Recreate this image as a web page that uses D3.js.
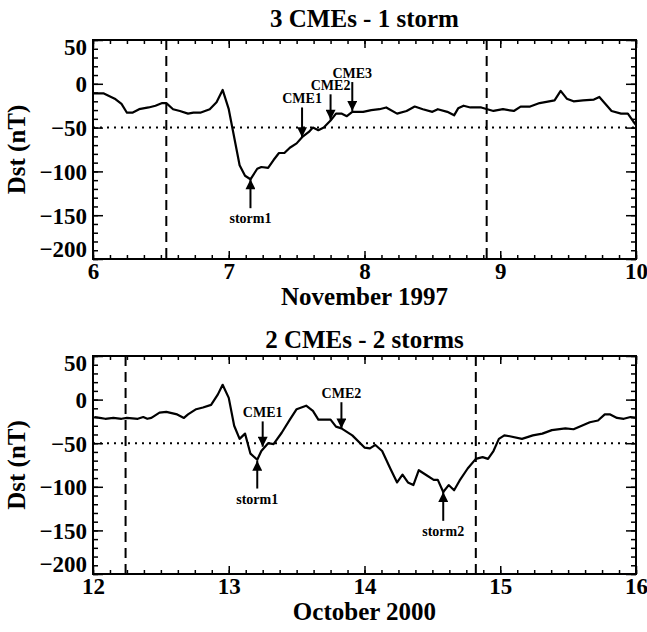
<!DOCTYPE html>
<html>
<head>
<meta charset="utf-8">
<script src="https://cdn.jsdelivr.net/npm/d3@7"></script>
<style>
  body { margin: 0; background: #fff; }
  text { font-family: "Liberation Serif", "Times New Roman", Times, serif; font-weight: bold; fill: #000; }
</style>
</head>
<body>
<script>
// November 1997 (3 CMEs - 1 storm): day of month, Dst in nT
const novDays = [6.00, 6.08, 6.16, 6.21, 6.25, 6.29, 6.34, 6.41, 6.46, 6.51, 6.54, 6.59, 6.64, 6.70, 6.74, 6.79,
  6.86, 6.91, 6.955, 7.00, 7.03, 7.08, 7.12, 7.16, 7.21, 7.24, 7.29, 7.33, 7.37, 7.41, 7.45, 7.50, 7.54, 7.59,
  7.62, 7.66, 7.70, 7.75, 7.79, 7.83, 7.87, 7.91, 7.99, 8.05, 8.11, 8.16, 8.24, 8.31, 8.37, 8.43, 8.50, 8.54,
  8.61, 8.66, 8.69, 8.73, 8.78, 8.86, 8.95, 9.02, 9.10, 9.15, 9.22, 9.29, 9.40, 9.445, 9.49, 9.54, 9.61, 9.69,
  9.73, 9.82, 9.89, 9.94, 9.98, 10.00];
const novDst = [-11, -11, -17, -23, -33, -33, -29, -27, -25, -22, -22, -29, -31, -34, -33, -33,
  -29, -21, -7, -29, -53, -93, -105, -109, -97, -95, -96, -87, -79, -79, -73, -68, -61, -55,
  -50, -53, -50, -42, -34, -34, -37, -32, -32, -30, -29, -27, -34, -31, -26, -29, -32, -29,
  -32, -36, -28, -25, -27, -27, -31, -29, -31, -26, -26, -22, -19, -8, -17, -20, -19, -18,
  -15, -31, -34, -34, -43, -47];

// October 2000 (2 CMEs - 2 storms)
const octDays = [12.01, 12.05, 12.09, 12.15, 12.21, 12.25, 12.33, 12.37, 12.40, 12.43, 12.49, 12.54, 12.62, 12.67,
  12.70, 12.76, 12.81, 12.87, 12.92, 12.955, 13.00, 13.04, 13.08, 13.12, 13.16, 13.21, 13.24, 13.29, 13.33,
  13.39, 13.45, 13.50, 13.57, 13.62, 13.66, 13.75, 13.79, 13.83, 13.91, 14.00, 14.04, 14.08, 14.13, 14.19,
  14.24, 14.28, 14.32, 14.36, 14.40, 14.46, 14.51, 14.54, 14.58, 14.62, 14.66, 14.70, 14.76, 14.82, 14.87,
  14.91, 14.95, 14.99, 15.03, 15.07, 15.16, 15.24, 15.31, 15.38, 15.48, 15.54, 15.60, 15.66, 15.72, 15.77,
  15.81, 15.86, 15.91, 15.96, 16.00];
const octDst = [-20, -21, -22, -21, -22, -21, -22, -20, -22, -21, -15, -14, -17, -21,
  -17, -11, -9, -6, 6, 17, 2, -30, -45, -39, -62, -69, -59, -50, -51,
  -38, -23, -11, -7, -13, -23, -23, -31, -33, -41, -55, -56, -52, -59, -79,
  -95, -86, -95, -98, -81, -87, -92, -92, -106, -98, -104, -93, -79, -68, -66,
  -68, -59, -45, -41, -42, -45, -41, -39, -35, -33, -34, -30, -26, -24, -17,
  -17, -21, -22, -20, -21];

// vertical dashed markers (day)
const novMarks = [6.54, 8.90];
const octMarks = [12.24, 14.82];

// arrows: label, day, tail Dst, tip Dst
const novLabels = ['CME1', 'CME2', 'CME3', 'storm1'];
const novArrowDay = [7.54, 7.75, 7.91, 7.16];
const novArrowTail = [-27, -12, 2, -142];
const novArrowTip = [-61, -41, -31, -109];

const octLabels = ['CME1', 'CME2', 'storm1', 'storm2'];
const octArrowDay = [13.25, 13.83, 13.21, 14.58];
const octArrowTail = [-25, -3, -102, -139];
const octArrowTip = [-54, -33, -70, -106];

const yMajor = [50, 0, -50, -100, -150, -200];

const W = 647, H = 632;
const svg = d3.select('body').append('svg')
    .attr('width', W)
    .attr('height', H);

svg.append('defs').append('marker')
    .attr('id', 'head')
    .attr('viewBox', '0 0 10 10')
    .attr('refX', 10).attr('refY', 5)
    .attr('markerWidth', 5.5).attr('markerHeight', 5)
    .attr('orient', 'auto')
  .append('path')
    .attr('d', 'M0,0 L10,5 L0,10 z')
    .attr('fill', '#000');

const left = 93, right = 636;
const serif = '"Liberation Serif", "Times New Roman", Times, serif';

function drawPanel(cfg) {
  const x = d3.scaleLinear().domain(cfg.xDomain).range([left, right]);
  const y = d3.scaleLinear().domain([-200, 50]).range([cfg.bottom, cfg.top]);
  const g = svg.append('g');

  // title
  g.append('text')
      .attr('x', (left + right) / 2)
      .attr('y', cfg.top - cfg.titleGap)
      .attr('text-anchor', 'middle')
      .style('font-size', '25px')
      .text(cfg.title);

  // -50 nT dotted level
  g.append('line')
      .attr('x1', left).attr('x2', right)
      .attr('y1', y(-50)).attr('y2', y(-50))
      .attr('stroke', '#000')
      .attr('stroke-width', 2)
      .attr('stroke-dasharray', '2,5');

  // dashed markers
  g.selectAll('.mark')
      .data(cfg.marks)
      .enter()
    .append('line')
      .attr('x1', d => x(d)).attr('x2', d => x(d))
      .attr('y1', cfg.top).attr('y2', cfg.bottom)
      .attr('stroke', '#000')
      .attr('stroke-width', 2)
      .attr('stroke-dasharray', '10,6');

  // Dst curve
  const line = d3.line()
      .x(d => x(d[0]))
      .y(d => y(d[1]));
  g.append('path')
      .datum(cfg.days.map((d, i) => [d, cfg.dst[i]]))
      .attr('d', line)
      .attr('fill', 'none')
      .attr('stroke', '#000')
      .attr('stroke-width', 2.2)
      .attr('stroke-linejoin', 'round');

  // arrows and labels
  cfg.labels.forEach((lab, i) => {
    const ax = x(cfg.arrowDay[i]);
    const y0 = y(cfg.arrowTail[i]), y1 = y(cfg.arrowTip[i]);
    g.append('line')
        .attr('x1', ax).attr('x2', ax)
        .attr('y1', y0).attr('y2', y1)
        .attr('stroke', '#000')
        .attr('stroke-width', 2)
        .attr('marker-end', 'url(#head)');
    const up = y1 < y0;
    g.append('text')
        .attr('x', ax)
        .attr('y', up ? y0 + 15 : y0 - 4)
        .attr('text-anchor', 'middle')
        .style('font-size', '14px')
        .text(lab);
  });

  // ticks: minor and major on all four sides, pointing inward
  const [d0, d1] = cfg.xDomain;
  const xMinor = d3.range(d0, d1 + 0.001, 0.125);
  const xMajor = d3.range(d0, d1 + 0.001, 1);
  const yMinor = d3.range(-200, 51, 10);

  g.append('g').attr('transform', `translate(0,${cfg.bottom})`)
      .call(d3.axisBottom(x).tickValues(xMinor).tickSize(-4).tickFormat(''));
  g.append('g').attr('transform', `translate(0,${cfg.top})`)
      .call(d3.axisTop(x).tickValues(xMinor).tickSize(-4).tickFormat(''));
  g.append('g').attr('transform', `translate(0,${cfg.top})`)
      .call(d3.axisTop(x).tickValues(xMajor).tickSize(-8).tickFormat(''));
  const xb = g.append('g').attr('transform', `translate(0,${cfg.bottom})`)
      .call(d3.axisBottom(x).tickValues(xMajor).tickSize(-8).tickPadding(4).tickFormat(d3.format('d')));

  g.append('g').attr('transform', `translate(${left},0)`)
      .call(d3.axisLeft(y).tickValues(yMinor).tickSize(-5).tickFormat(''));
  g.append('g').attr('transform', `translate(${right},0)`)
      .call(d3.axisRight(y).tickValues(yMinor).tickSize(-5).tickFormat(''));
  g.append('g').attr('transform', `translate(${right},0)`)
      .call(d3.axisRight(y).tickValues(yMajor).tickSize(-10).tickFormat(''));
  const yl = g.append('g').attr('transform', `translate(${left},0)`)
      .call(d3.axisLeft(y).tickValues(yMajor).tickSize(-10).tickPadding(6).tickFormat(d3.format('d')));

  g.selectAll('.domain').remove();
  g.selectAll('.tick line').attr('stroke', '#000').attr('stroke-width', 1.5);
  xb.selectAll('text').attr('fill', '#000')
      .style('font-size', '23px').style('font-family', serif).style('font-weight', 'bold');
  yl.selectAll('text').attr('fill', '#000')
      .style('font-size', '23px').style('font-family', serif).style('font-weight', 'bold')
      .attr('dy', d => d === 50 ? '0.62em' : d === -200 ? '-0.1em' : '0.34em');

  // frame
  g.append('rect')
      .attr('x', left).attr('y', cfg.top)
      .attr('width', right - left).attr('height', cfg.bottom - cfg.top)
      .attr('fill', 'none')
      .attr('stroke', '#000')
      .attr('stroke-width', 2);

  // axis titles
  g.append('text')
      .attr('x', (left + right) / 2)
      .attr('y', cfg.bottom + 46)
      .attr('text-anchor', 'middle')
      .style('font-size', '25px')
      .text(cfg.xTitle);
  g.append('text')
      .attr('transform', `translate(25,${(cfg.top + cfg.bottom) / 2}) rotate(-90)`)
      .attr('text-anchor', 'middle')
      .style('font-size', '25px')
      .text('Dst (nT)');
}

drawPanel({
  title: '3 CMEs - 1 storm', xTitle: 'November 1997', xDomain: [6, 10],
  top: 40, bottom: 259, titleGap: 13, days: novDays, dst: novDst, marks: novMarks,
  labels: novLabels, arrowDay: novArrowDay, arrowTail: novArrowTail, arrowTip: novArrowTip
});
drawPanel({
  title: '2 CMEs - 2 storms', xTitle: 'October 2000', xDomain: [12, 16],
  top: 356, bottom: 574, titleGap: 8, days: octDays, dst: octDst, marks: octMarks,
  labels: octLabels, arrowDay: octArrowDay, arrowTail: octArrowTail, arrowTip: octArrowTip
});
</script>
</body>
</html>
